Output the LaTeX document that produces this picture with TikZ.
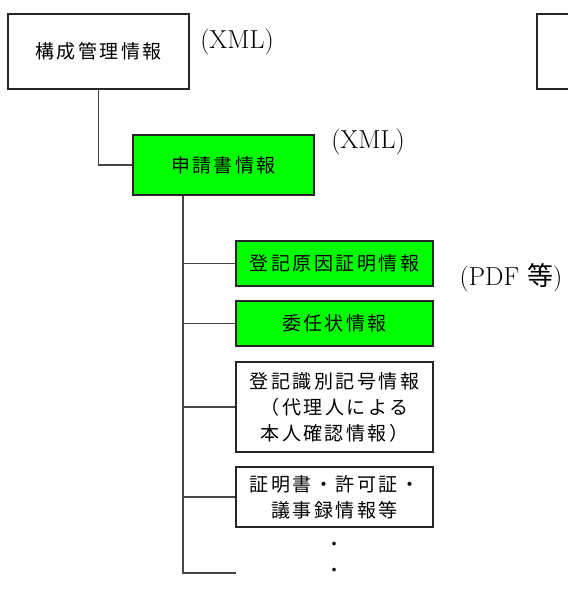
\documentclass[tikz,border=0pt]{standalone}
\usepackage{fontspec}
\newfontfamily\jp{Noto Sans CJK JP}[LetterSpace=13]
\newfontfamily\jpn{Noto Sans CJK JP}
\definecolor{boxgreen}{RGB}{0,255,0}
\definecolor{linegray}{RGB}{70,70,70}
\begin{document}
\begin{tikzpicture}[x=1pt,y=-1pt,
  box/.style={draw=black!85, line width=1.2pt, inner sep=0pt, align=center,
    font=\jp\fontsize{19}{26}\selectfont},
  wbox/.style={box, minimum width=181pt},
  nbox/.style={box, minimum width=197pt},
  green/.style={fill=boxgreen},
  conn/.style={draw=linegray, line width=1.1pt},
  lbl/.style={inner sep=0pt, font=\fontsize{26}{26}\selectfont}]
\useasboundingbox (0,0) rectangle (568,595);
\clip (0,0) rectangle (568,595);
\node[wbox, minimum height=75pt] (b1) at (98.5,51.5) {構成管理情報};
\node[wbox, minimum height=75pt] (b0) at (627.5,51.5) {};
\node[wbox, green, minimum height=60pt] (b2) at (223.5,165) {申請書情報};
\node[nbox, green, minimum height=45pt] (b3) at (334.5,263.5) {登記原因証明情報};
\node[nbox, green, minimum height=45pt] (b4) at (334.5,323.5) {委任状情報};
\node[nbox, minimum height=90pt] (b5) at (334.5,407) {登記識別記号情報\\（代理人による\\本人確認情報）};
\node[nbox, minimum height=60pt] (b6) at (334.5,497) {証明書・許可証・\\議事録情報等};
\node[lbl] (x1) at (237,42) {(XML)};
\node[lbl] (x2) at (368,142) {(XML)};
\node[lbl] (p1) at (511,278) {(PDF {\jpn 等})};
\node[inner sep=0pt, font=\jpn\fontsize{17}{17}\selectfont] (d1) at (334,546) {・};
\node[inner sep=0pt, font=\jpn\fontsize{17}{17}\selectfont] (d2) at (334,572) {・};
\coordinate (tend) at (183,573);
\coordinate (lend) at (236,573);
\draw[conn] (b1.south) |- (b2.west);
\draw[conn] (b2.south -| tend) -- (tend) -- (lend);
\foreach \b in {b3,b4,b5,b6} \draw[conn] (\b.west -| tend) -- (\b.west);
\end{tikzpicture}
\end{document}
